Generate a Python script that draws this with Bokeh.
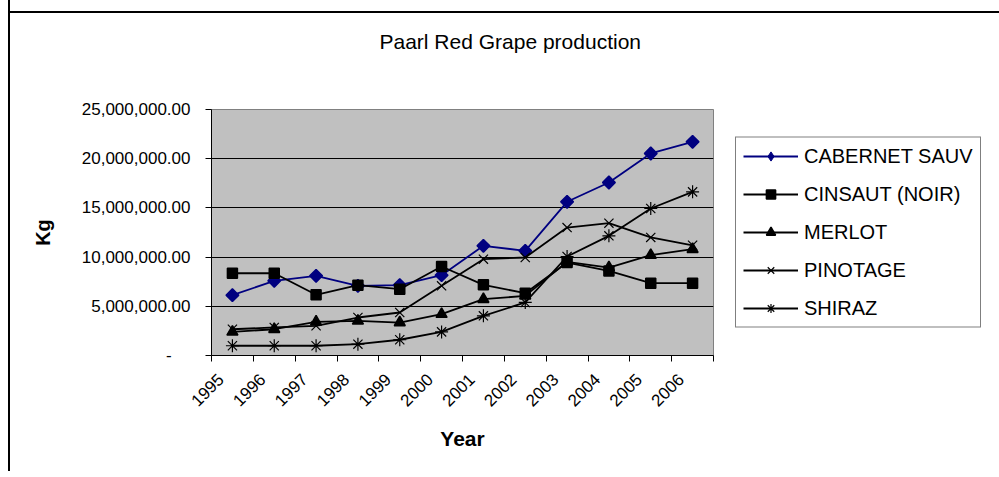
import math
from bokeh.plotting import figure
from bokeh.models import (Range1d, FixedTicker, NumeralTickFormatter, Legend,
                          LegendItem)
from bokeh.embed import file_html
from bokeh.resources import INLINE

years = ["1995", "1996", "1997", "1998", "1999", "2000",
         "2001", "2002", "2003", "2004", "2005", "2006"]
cabernet = [6130000, 7590000, 8100000, 7080000, 7150000, 8160000,
            11150000, 10640000, 15620000, 17580000, 20530000, 21720000]
cinsaut = [8360000, 8360000, 6170000, 7150000, 6740000, 9040000,
           7180000, 6330000, 9450000, 8600000, 7350000, 7350000]
merlot = [2400000, 2670000, 3420000, 3520000, 3350000, 4200000,
          5720000, 6060000, 9520000, 8940000, 10200000, 10800000]
pinotage = [2670000, 2850000, 3020000, 3860000, 4370000, 7080000,
            9790000, 9960000, 13000000, 13450000, 12000000, 11200000]
shiraz = [990000, 990000, 990000, 1150000, 1600000, 2400000,
          4030000, 5390000, 10060000, 12160000, 14940000, 16630000]
y_ticks = [0, 5000000, 10000000, 15000000, 20000000, 25000000]

FONT = "Liberation Sans"
xs = [i + 0.5 for i in range(len(years))]
label_shift = 0.28  # rotated year labels sit slightly left of category centres
label_pos = [x - label_shift for x in xs]

p = figure(frame_width=502, frame_height=246, output_backend="svg",
           toolbar_location=None,
           x_range=Range1d(0, len(years)), y_range=Range1d(0, 25000000),
           min_border_left=201, min_border_top=94, min_border_right=0,
           min_border_bottom=116)
# outer chart-area border: left edge + a top rule drawn behind the canvas
p.styles = {"border-left": "2px solid black",
            "margin-left": "8px", "margin-top": "-30px",
            "background": "linear-gradient(#000, #000) 0px 41px / 100% 2px no-repeat, white"}
p.background_fill_color = "#C0C0C0"
p.border_fill_color = "white"
p.border_fill_alpha = 0
p.outline_line_color = "#808080"
p.outline_line_width = 1

p.title.text = "Paarl Red Grape production"
p.title.align = "left"
p.title.offset = 168
p.title.standoff = 114
p.title.text_font = FONT
p.title.text_font_size = "21px"
p.title.text_font_style = "normal"
p.title.text_color = "black"

# grid
p.xgrid.visible = False
p.ygrid.grid_line_color = "black"
p.ygrid.grid_line_width = 1
p.ygrid.ticker = FixedTicker(ticks=y_ticks)

# y axis
ya = p.yaxis[0]
ya.ticker = FixedTicker(ticks=y_ticks)
ya.formatter = NumeralTickFormatter(format="0,0.00")
ya.major_label_overrides = {0: "-\u00a0\u00a0\u00a0\u00a0"}
ya.major_label_text_font = FONT
ya.major_label_text_font_size = "17px"
ya.major_label_text_color = "black"
ya.major_tick_out = 6
ya.major_tick_in = 0
ya.minor_tick_line_color = None
ya.major_label_standoff = 15
ya.axis_line_color = "black"
ya.major_tick_line_color = "black"
ya.axis_label = "Kg"
ya.axis_label_text_font = FONT
ya.axis_label_text_font_style = "bold"
ya.axis_label_text_font_size = "20px"
ya.axis_label_text_color = "black"
ya.axis_label_standoff = 25

# x axis
xa = p.xaxis[0]
xa.ticker = FixedTicker(ticks=label_pos, minor_ticks=list(range(len(years) + 1)))
xa.major_label_overrides = {x: y for x, y in zip(label_pos, years)}
xa.major_label_orientation = math.pi / 4
xa.major_label_text_font = FONT
xa.major_label_text_font_size = "17px"
xa.major_label_text_color = "black"
xa.major_tick_line_color = None
xa.minor_tick_line_color = "black"
xa.minor_tick_out = 6
xa.minor_tick_in = 0
xa.major_label_standoff = 15
xa.axis_line_color = "black"
xa.axis_label = "Year"
xa.axis_label_text_font = FONT
xa.axis_label_text_font_style = "bold"
xa.axis_label_text_font_size = "21px"
xa.axis_label_text_color = "black"
xa.axis_label_standoff = 12

series = [
    ("CABERNET SAUV", cabernet, "square", "#000080", 9, math.pi / 4, 1.5),
    ("CINSAUT (NOIR)", cinsaut, "square", "black", 10, 0, 1.5),
    ("MERLOT", merlot, "triangle", "black", 11, 0, 1.5),
    ("PINOTAGE", pinotage, "x", "black", 13, 0, 1.2),
    ("SHIRAZ", shiraz, "asterisk", "black", 13, 0, 1.2),
]
items = []
for name, vals, marker, color, size, ang, lw in series:
    lr = p.line(xs, vals, line_color=color, line_width=1.8)
    key = None
    if ang:
        # diamond drawn underneath the rotated square; it supplies the key glyph
        key = p.scatter(xs, vals, marker="diamond", size=12,
                        fill_color=color, line_color=color, line_width=1)
    sr = p.scatter(xs, vals, marker=marker, size=size, angle=ang,
                   fill_color=color, line_color=color, line_width=lw)
    items.append(LegendItem(label=name, renderers=[lr, key if key else sr]))

legend = Legend(items=items, location="left", orientation="vertical")
legend.border_line_color = "black"
legend.border_line_width = 1
legend.background_fill_color = "white"
legend.background_fill_alpha = 1
legend.label_text_font = FONT
legend.label_text_font_size = "20px"
legend.label_text_color = "black"
legend.padding = 7
legend.margin = 22
legend.glyph_width = 55
legend.glyph_height = 23
legend.label_height = 23
legend.spacing = 15
legend.label_standoff = 6
p.add_layout(legend, "right")

open("out.html", "w").write(file_html(p, INLINE))
